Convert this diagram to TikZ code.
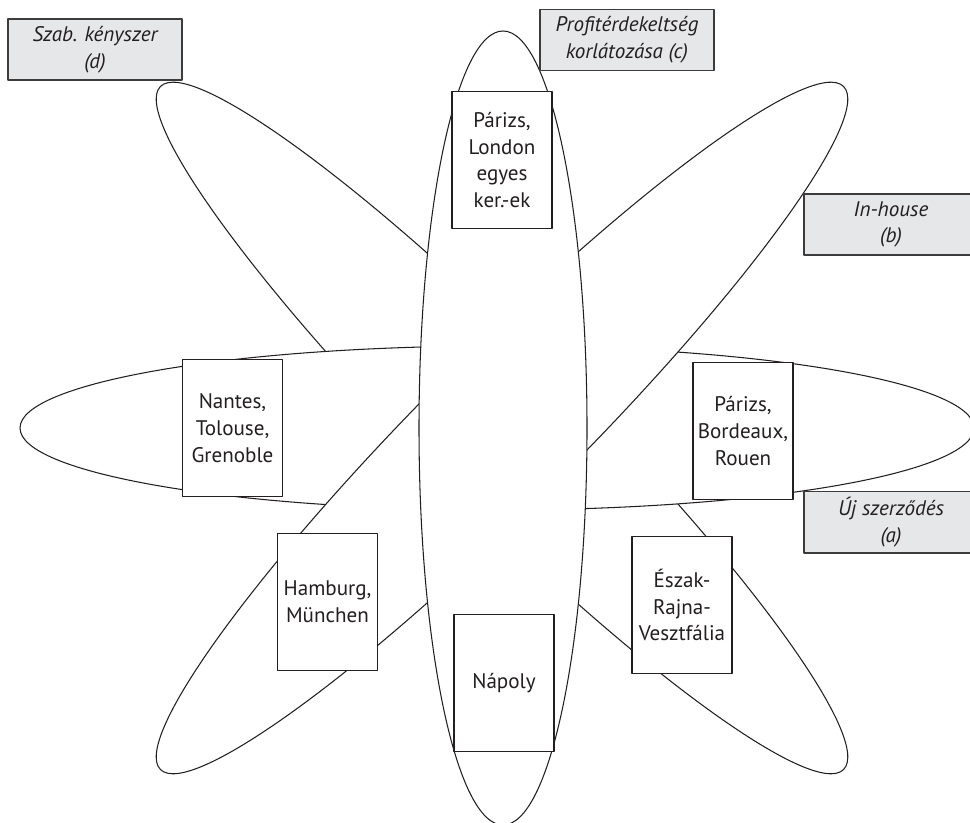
\documentclass[tikz,border=0pt]{standalone}
\usepackage{fontspec}
\setmainfont{PT Sans}
\usepackage{tikz}
\definecolor{petalink}{HTML}{231F20}
\definecolor{tagfill}{HTML}{E6E7E8}
\definecolor{tagedge}{HTML}{3C3C3C}

\begin{document}
\begin{tikzpicture}[line join=round,
  font=\fontsize{12pt}{15.2pt}\selectfont,text=petalink,
  petal/.style={draw=petalink,fill=white,line width=.6pt},
  city/.style={draw=petalink,fill=white,line width=.7pt,minimum width=2cm,minimum height=2.74cm,align=center,inner sep=1pt},
  tag/.style={draw=tagedge,fill=tagfill,line width=.8pt,minimum width=3.48cm,minimum height=1.22cm,align=center,font=\fontsize{12pt}{15.2pt}\selectfont\itshape}]
\clip (0,0) rectangle (19.4,16.46);
\fill[white] (0,0) rectangle (19.4,16.46);

% szirmok: alul (d), majd (a), (b), legfelul (c)
\path[petal] (10.04,7.90) ellipse [x radius=9.66,y radius=1.52,rotate=-45];
\path[petal] (9.94,7.90) ellipse [x radius=9.54,y radius=1.64];
\path[petal] (10.04,7.90) ellipse [x radius=9.66,y radius=1.52,rotate=45];
\path[petal] (10.06,7.90) ellipse [x radius=1.68,y radius=7.94];

% varosok
\node[city] (parlon) at (10.04,13.26) {Párizs,\\London\\egyes\\ker.-ek};
\node[city] (nantes) at (4.65,7.90) {Nantes,\\Tolouse,\\Grenoble};
\node[city] (parbor) at (14.86,7.84) {Párizs,\\Bordeaux,\\Rouen};
\node[city] (hamb) at (6.55,4.42) {Hamburg,\\München};
\node[city] (nrw) at (13.64,4.36) {Észak-\\Rajna-\\Vesztfália};
\node[city] (napoly) at (10.08,2.80) {Nápoly};

% cimkek
\node[tag] (tagd) at (1.90,15.47) {Szab. kényszer\\(d)};
\node[tag] (tagc) at (12.54,15.66) {Profitérdekeltség\\korlátozása (c)};
\node[tag] (tagb) at (17.82,11.97) {In-house\\(b)};
\node[tag] (taga) at (17.82,6.01) {Új szerződés\\(a)};
\end{tikzpicture}
\end{document}
